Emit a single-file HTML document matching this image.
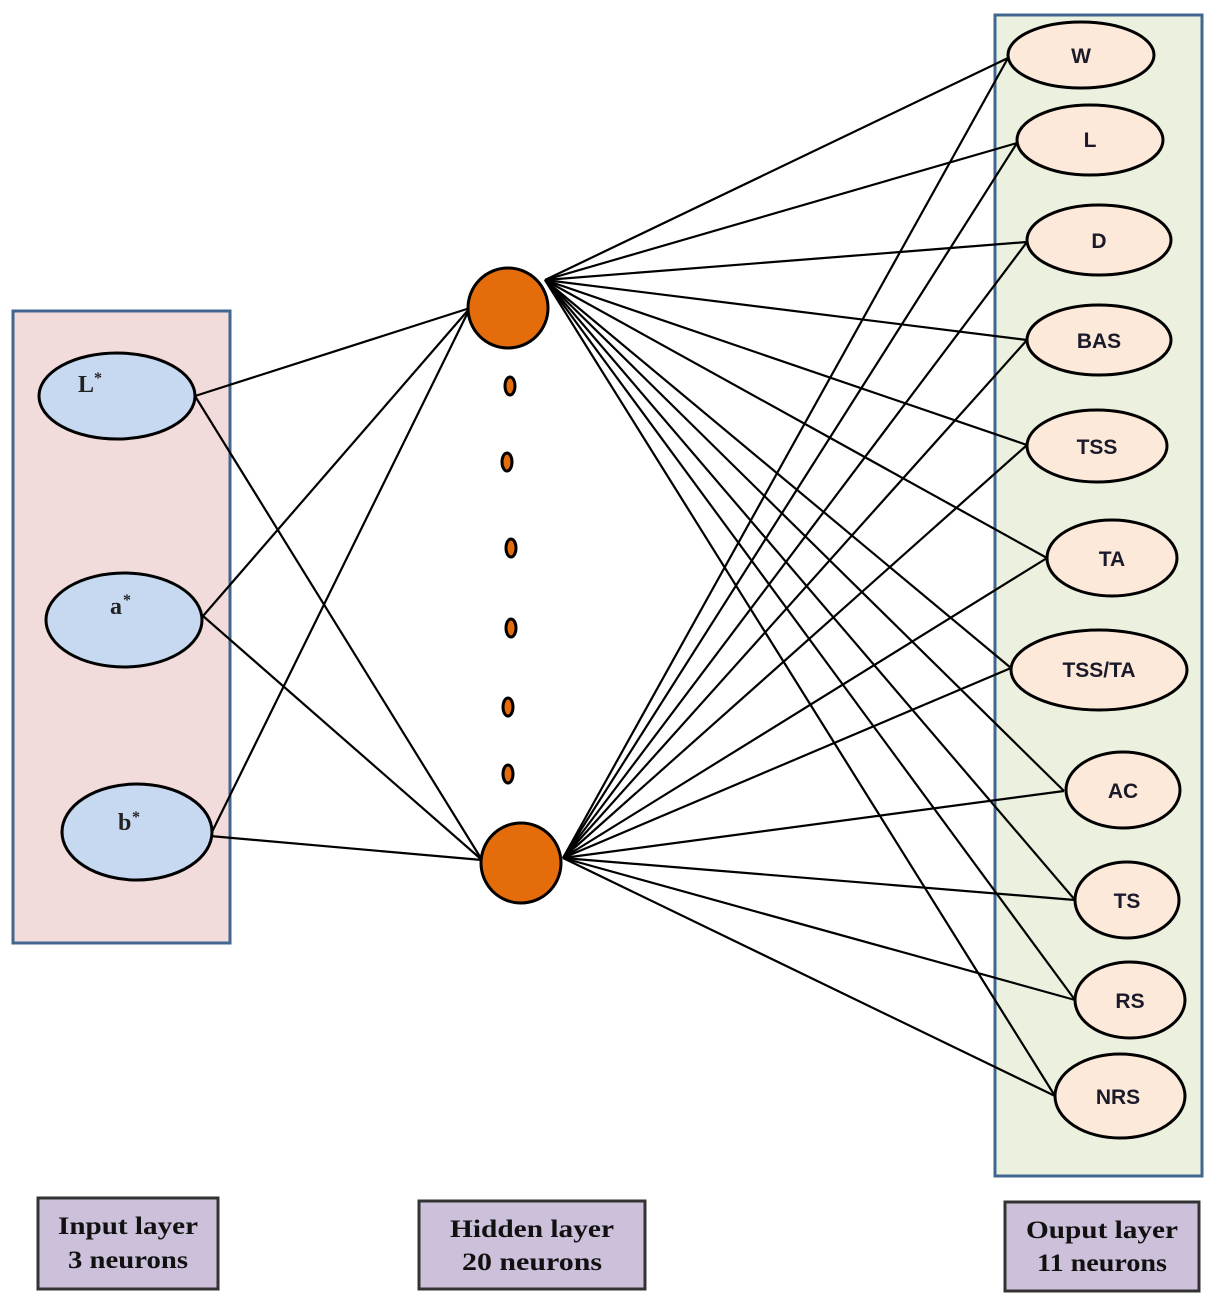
<!DOCTYPE html>
<html><head><meta charset="utf-8"><style>
html,body{margin:0;padding:0;background:#fff;}
svg{display:block;}
.o{font-family:"Liberation Sans",sans-serif;font-weight:bold;font-size:21px;fill:#1a1a2a;}
.i{font-family:"Liberation Serif",serif;font-weight:bold;font-size:24px;fill:#222;}
.lb{font-family:"Liberation Serif",serif;font-weight:bold;font-size:25px;fill:#111;}
</style></head><body>
<svg width="1214" height="1304" viewBox="0 0 1214 1304" xmlns="http://www.w3.org/2000/svg">
<rect x="13" y="311" width="217" height="632" fill="#f2dcdb" stroke="#41668f" stroke-width="3"/>
<rect x="995" y="15" width="207" height="1161" fill="#ebf1de" stroke="#41668f" stroke-width="3"/>
<g stroke="#000" stroke-width="2.2" fill="none">
<line x1="195" y1="396" x2="470" y2="308"/>
<line x1="195" y1="396" x2="482" y2="860"/>
<line x1="203" y1="616" x2="470" y2="308"/>
<line x1="203" y1="616" x2="482" y2="860"/>
<line x1="210" y1="836" x2="470" y2="308"/>
<line x1="210" y1="836" x2="482" y2="860"/>
<g id="t">
<line x1="545" y1="280" x2="1008" y2="58"/>
<line x1="545" y1="280" x2="1017" y2="143"/>
<line x1="545" y1="280" x2="1027" y2="242"/>
<line x1="545" y1="280" x2="1027" y2="340"/>
<line x1="545" y1="280" x2="1027" y2="445"/>
<line x1="545" y1="280" x2="1047" y2="558"/>
<line x1="545" y1="280" x2="1011" y2="668"/>
<line x1="545" y1="280" x2="1064" y2="791"/>
<line x1="545" y1="280" x2="1075" y2="900"/>
<line x1="545" y1="280" x2="1075" y2="1000"/>
<line x1="545" y1="280" x2="1055" y2="1096"/>
</g>
<line x1="563" y1="858" x2="1008" y2="58"/>
<line x1="563" y1="858" x2="1017" y2="143"/>
<line x1="563" y1="858" x2="1027" y2="242"/>
<line x1="563" y1="858" x2="1027" y2="340"/>
<line x1="563" y1="858" x2="1027" y2="445"/>
<line x1="563" y1="858" x2="1047" y2="558"/>
<line x1="563" y1="858" x2="1011" y2="668"/>
<line x1="563" y1="858" x2="1064" y2="791"/>
<line x1="563" y1="858" x2="1075" y2="900"/>
<line x1="563" y1="858" x2="1075" y2="1000"/>
<line x1="563" y1="858" x2="1055" y2="1096"/>
</g>
<g stroke="#000" stroke-width="3" fill="#c6d9f1">
<ellipse cx="117" cy="396" rx="78" ry="43"/>
<ellipse cx="124" cy="620" rx="78" ry="47"/>
<ellipse cx="137" cy="832" rx="75" ry="48"/>
</g>
<text class="i" x="78" y="392">L</text><text class="i" x="94" y="383" style="font-size:16px">*</text>
<text class="i" x="110" y="614">a</text><text class="i" x="123" y="605" style="font-size:16px">*</text>
<text class="i" x="118" y="830">b</text><text class="i" x="132" y="822" style="font-size:16px">*</text>
<g stroke="#000" stroke-width="3" fill="#e46c0a">
<circle cx="508" cy="308" r="40"/>
<circle cx="521" cy="863" r="40"/>
<ellipse cx="510" cy="386" rx="5" ry="9"/>
<ellipse cx="507" cy="462" rx="5" ry="9"/>
<ellipse cx="511" cy="548" rx="5" ry="9"/>
<ellipse cx="511" cy="628" rx="5" ry="9"/>
<ellipse cx="508" cy="707" rx="5" ry="9"/>
<ellipse cx="508" cy="774" rx="5" ry="9"/>
</g>
<g stroke="#000" stroke-width="3" fill="#fde9d9">
<ellipse cx="1081" cy="55" rx="73" ry="33"/>
<ellipse cx="1090" cy="140" rx="73" ry="35"/>
<ellipse cx="1099" cy="240" rx="72" ry="35"/>
<ellipse cx="1099" cy="340" rx="72" ry="35"/>
<ellipse cx="1097" cy="446" rx="70" ry="36"/>
<ellipse cx="1112" cy="558" rx="65" ry="38"/>
<ellipse cx="1099" cy="670" rx="88" ry="40"/>
<ellipse cx="1123" cy="790" rx="57" ry="38"/>
<ellipse cx="1127" cy="900" rx="52" ry="38"/>
<ellipse cx="1130" cy="1000" rx="55" ry="38"/>
<ellipse cx="1120" cy="1096" rx="65" ry="42"/>
</g>
<g class="o" text-anchor="middle">
<text x="1081" y="63">W</text>
<text x="1090" y="147">L</text>
<text x="1099" y="248">D</text>
<text x="1099" y="348">BAS</text>
<text x="1097" y="454">TSS</text>
<text x="1112" y="566">TA</text>
<text x="1099" y="677">TSS/TA</text>
<text x="1123" y="798">AC</text>
<text x="1127" y="908">TS</text>
<text x="1130" y="1008">RS</text>
<text x="1118" y="1104">NRS</text>
</g>
<g fill="#ccc0da" stroke="#333" stroke-width="3">
<rect x="38" y="1198" width="180" height="91"/>
<rect x="419" y="1201" width="226" height="88"/>
<rect x="1005" y="1202" width="194" height="89"/>
</g>
<g class="lb" text-anchor="middle">
<text x="128" y="1234" textLength="140" lengthAdjust="spacingAndGlyphs">Input layer</text>
<text x="128" y="1268" textLength="120" lengthAdjust="spacingAndGlyphs">3 neurons</text>
<text x="532" y="1237" textLength="164" lengthAdjust="spacingAndGlyphs">Hidden layer</text>
<text x="532" y="1270" textLength="140" lengthAdjust="spacingAndGlyphs">20 neurons</text>
<text x="1102" y="1238" textLength="152" lengthAdjust="spacingAndGlyphs">Ouput layer</text>
<text x="1102" y="1271" textLength="130" lengthAdjust="spacingAndGlyphs">11 neurons</text>
</g>
</svg>
</body></html>
